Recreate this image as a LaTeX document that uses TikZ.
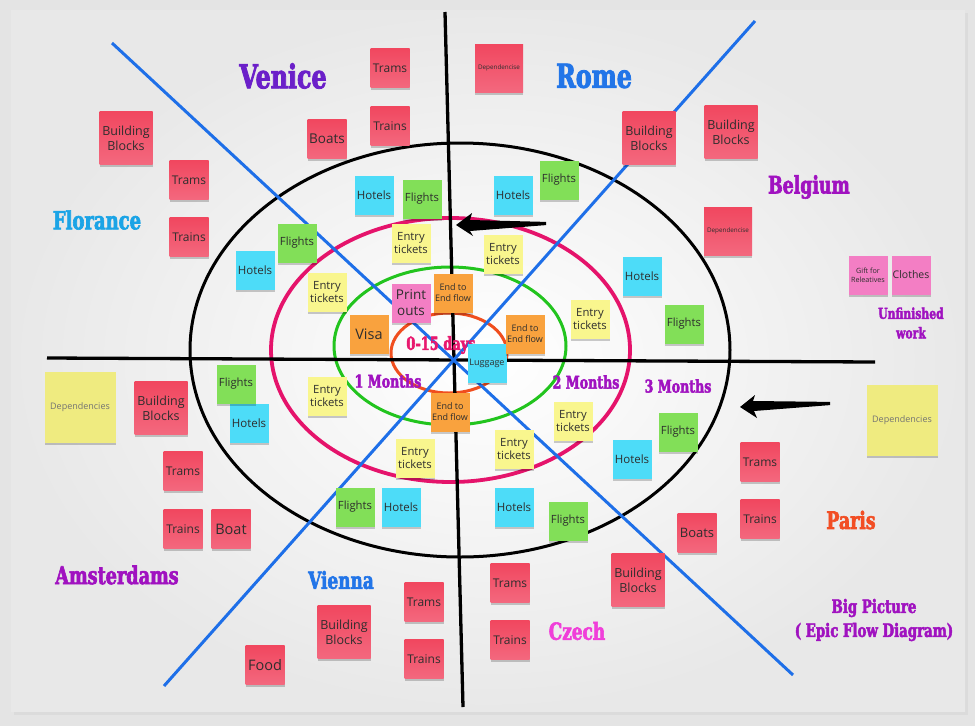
\documentclass[tikz,border=0pt]{standalone}
\usepackage{fontspec}
\usetikzlibrary{shadows,calc}
\newfontfamily\notefont{Open Sans}
\newfontfamily\labelfont{DejaVu Serif}[FakeStretch=0.72, BoldFeatures={FakeBold=2.5}]
\definecolor{nred}{HTML}{F1475F}
\definecolor{nred2}{HTML}{F3687E}
\definecolor{ncyan}{HTML}{4DDCF8}
\definecolor{ngreen}{HTML}{82DF58}
\definecolor{nyellow}{HTML}{F9F68E}
\definecolor{dyellow}{HTML}{EFEB80}
\definecolor{norange}{HTML}{F9A23E}
\definecolor{npink}{HTML}{F37EC4}
\definecolor{lblue}{HTML}{1E6FE8}
\definecolor{cpink}{HTML}{E5136B}
\definecolor{cgreen}{HTML}{22C41E}
\definecolor{corange}{HTML}{F04E1E}
\definecolor{cvenice}{HTML}{6B1FC9}
\definecolor{crome}{HTML}{2275E8}
\definecolor{cflor}{HTML}{1BA4E6}
\definecolor{cpurple}{HTML}{A012C0}
\definecolor{cdays}{HTML}{E8186E}
\definecolor{cparis}{HTML}{F24E24}
\definecolor{cczech}{HTML}{F03FD9}
\definecolor{boardbg}{HTML}{E4E4E4}
\tikzset{
  note/.style={inner sep=1pt, minimum width=39pt, minimum height=39pt, align=center,
    text=black!82, font=\notefont\fontsize{12}{14}\selectfont,
    drop shadow={shadow xshift=0pt, shadow yshift=-2.5pt, opacity=0.2, fill=black}},
  rnote/.style={note, top color=nred, bottom color=nred2},
  cnote/.style={note, fill=ncyan},
  gnote/.style={note, fill=ngreen},
  ynote/.style={note, fill=nyellow},
  onote/.style={note, fill=norange},
  pnote/.style={note, fill=npink},
  bignote/.style={minimum width=53pt, minimum height=53pt},
  midnote/.style={minimum width=48pt, minimum height=48pt},
  hugenote/.style={minimum width=71pt, minimum height=71pt},
  fs/.style={font=\notefont\pgfmathsetmacro\myskip{#1*1.2}\fontsize{#1}{\myskip}\selectfont},
  lbl/.style={inner sep=0pt, align=center, font=\labelfont\bfseries\pgfmathsetmacro\myskip{#1*1.3}\fontsize{#1}{\myskip}\selectfont},
  axis/.style={line width=3.3pt, black},
  bline/.style={line width=3pt, lblue},
  ring/.style={line width=3pt}
}
\begin{document}
\begin{tikzpicture}[x=1pt,y=-1pt]
\useasboundingbox (0,0) rectangle (975,726);
\fill[boardbg] (0,0) rectangle (975,726);
\fill[black!14] (14,13) rectangle (968,715);
\shade[inner color=white, outer color=black!9] (11,10) rectangle (965,711);

% axes and diagonals
\coordinate (vtop) at (445,12);
\coordinate (vbot) at (463,707);
\coordinate (hl) at (47,358);
\coordinate (hr) at (875,362);
\coordinate (b1a) at (112,43);
\coordinate (b1b) at (793,675);
\coordinate (b2a) at (755,21);
\coordinate (b2b) at (164,686);

\draw[ring, black] (460,350) ellipse [x radius=270pt, y radius=207pt];
\draw[ring, cpink, line width=3.8pt] (450.5,350) ellipse [x radius=179.5pt, y radius=132pt];
\draw[ring, cgreen] (450,346) ellipse [x radius=116pt, y radius=79pt];
\draw[ring, corange] (449,353) ellipse [x radius=58pt, y radius=40pt];

\draw[axis] (vtop) -- (vbot);
\draw[axis] (hl) -- (hr);
\draw[bline] (b1a) -- (b1b);
\draw[bline] (b2a) -- (b2b);

% arrows
\coordinate (a1tip) at (456,225);
\coordinate (a1tail) at (546,223.5);
\fill (a1tip) -- (472,213) -- (470,220) -- ($(a1tail)+(0,-1.6)$) -- ($(a1tail)+(0,1.6)$) -- (470,231) -- (473,236) -- cycle;
\coordinate (a2tip) at (740,407);
\coordinate (a2tail) at (830,403.5);
\fill (a2tip) -- (755,395) -- (753,401) -- ($(a2tail)+(0,-1.6)$) -- ($(a2tail)+(0,1.6)$) -- (754,411) -- (757,418) -- cycle;

% labels
\node[lbl=33, text=cvenice] (lvenice) at (283,76) {Venice};
\node[lbl=33, text=crome] (lrome) at (594,76) {Rome};
\node[lbl=25, text=cflor] (lflor) at (97,220) {Florance};
\node[lbl=24, text=cpurple] (lbelg) at (809,187) {Belgium};
\node[lbl=15, text=cpurple] (lunf) at (911,323) {Unfinished\\work};
\node[lbl=18, text=cdays] (ldays) at (441,345) {0-15 days};
\node[lbl=17.5, text=cpurple] (lm1) at (388,381) {1 Months};
\node[lbl=17.5, text=cpurple] (lm2) at (586,382) {2 Months};
\node[lbl=17.5, text=cpurple] (lm3) at (678,386) {3 Months};
\node[lbl=24, text=cparis] (lparis) at (851,520) {Paris};
\node[lbl=18.5, text=cpurple, font=\labelfont\bfseries\fontsize{18.5}{24}\selectfont] (lbig) at (874,620) {Big Picture\\( Epic Flow Diagram)};
\node[lbl=23.5, text=cczech] (lczech) at (577,631) {Czech};
\node[lbl=23.5, text=crome] (lvienna) at (341,580) {Vienna};
\node[lbl=24.5, text=cpurple] (lams) at (117,575) {Amsterdams};

% red notes
\node[rnote] (trA) at (189,180) {Trams};
\node[rnote] (trnA) at (189,237) {Trains};
\node[rnote] (trB) at (390,68) {Trams};
\node[rnote] (trnB) at (390,126) {Trains};
\node[rnote, fs=13.5] (boatsA) at (327,139) {Boats};
\node[rnote] (trC) at (183,471) {Trams};
\node[rnote] (trnC) at (183,529) {Trains};
\node[rnote, fs=14.5] (boatL) at (231,529) {Boat};
\node[rnote] (trD) at (424,602) {Trams};
\node[rnote] (trnD) at (424,659) {Trains};
\node[rnote, fs=14.5] (food) at (265,665) {Food};
\node[rnote] (trE) at (510,583) {Trams};
\node[rnote] (trnE) at (510,640) {Trains};
\node[rnote, fs=13] (boatsB) at (697,533) {Boats};
\node[rnote] (trF) at (760,462) {Trams};
\node[rnote] (trnF) at (760,519) {Trains};
\node[rnote, bignote, fs=12.5] (bbA) at (126,138) {Building\\Blocks};
\node[rnote, bignote, fs=12.5] (bbB) at (649,138) {Building\\Blocks};
\node[rnote, bignote, fs=12.5] (bbC) at (731,132) {Building\\Blocks};
\node[rnote, bignote, fs=12.5] (bbD) at (161,408) {Building\\Blocks};
\node[rnote, bignote, fs=12.5] (bbE) at (344,632) {Building\\Blocks};
\node[rnote, bignote, fs=12.5] (bbF) at (638,580) {Building\\Blocks};
\node[rnote, midnote, fs=6.3] (depA) at (499,68) {Dependencise};
\node[rnote, midnote, fs=6.3] (depB) at (728,231) {Dependencise};

% cyan notes
\node[cnote, fs=11.5] (hoA) at (374,195) {Hotels};
\node[cnote, fs=11.5] (hoB) at (513,195) {Hotels};
\node[cnote, fs=11.5] (hoC) at (255,270) {Hotels};
\node[cnote, fs=11.5] (hoD) at (642,276) {Hotels};
\node[cnote, fs=11.5] (hoE) at (249,423) {Hotels};
\node[cnote, fs=11.5] (hoF) at (632,459) {Hotels};
\node[cnote, fs=11.5] (hoG) at (401,507) {Hotels};
\node[cnote, fs=11.5] (hoH) at (514,507) {Hotels};
\node[cnote, fs=9] (lug) at (487,363) {Luggage};

% green notes
\node[gnote, fs=11.3] (flA) at (422,199) {Flights};
\node[gnote, fs=11.3] (flB) at (559,180) {Flights};
\node[gnote, fs=11.3] (flC) at (297,243) {Flights};
\node[gnote, fs=11.3] (flD) at (684,324) {Flights};
\node[gnote, fs=11.3] (flE) at (236,384) {Flights};
\node[gnote, fs=11.3] (flF) at (678,432) {Flights};
\node[gnote, fs=11.3] (flG) at (355,507) {Flights};
\node[gnote, fs=11.3] (flH) at (568,521) {Flights};

% yellow notes
\node[ynote, fs=11.3] (etA) at (411,243) {Entry\\tickets};
\node[ynote, fs=11.3] (etB) at (503,254) {Entry\\tickets};
\node[ynote, fs=11.3] (etC) at (327,292) {Entry\\tickets};
\node[ynote, fs=11.3] (etD) at (590,319) {Entry\\tickets};
\node[ynote, fs=11.3] (etE) at (327,396) {Entry\\tickets};
\node[ynote, fs=11.3] (etF) at (415,458) {Entry\\tickets};
\node[ynote, fs=11.3] (etG) at (573,421) {Entry\\tickets};
\node[ynote, fs=11.3] (etH) at (514,449) {Entry\\tickets};
\node[note, fill=dyellow, hugenote, fs=9, text=black!55] (depL) at (80,407) {Dependencies};
\node[note, fill=dyellow, hugenote, fs=9, text=black!55] (depR) at (902,420) {Dependencies};

% orange and pink notes
\node[onote, fs=9] (eeA) at (453,293) {End to\\End flow};
\node[onote, fs=9] (eeB) at (525,334) {End to\\End flow};
\node[onote, fs=9] (eeC) at (450,412) {End to\\End flow};
\node[onote, fs=14.5] (visa) at (369,334) {Visa};
\node[pnote, fs=13.5] (print) at (411,303) {Print\\outs};
\node[pnote, fs=7.2] (gift) at (868,275) {Gift for\\Releatives};
\node[pnote, fs=10.5] (clothes) at (911,275) {Clothes};
\end{tikzpicture}
\end{document}
